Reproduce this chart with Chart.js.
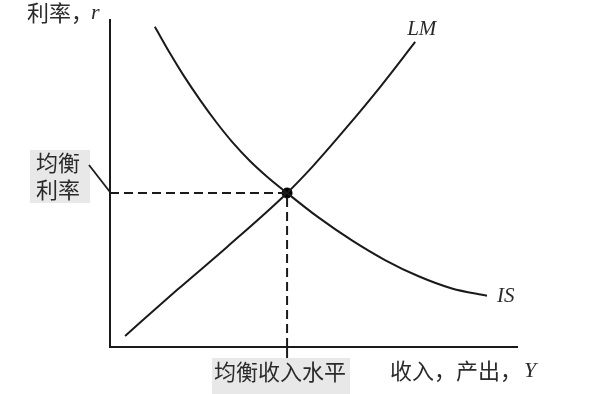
<!DOCTYPE html>
<html>
<head>
<meta charset="utf-8">
<script src="https://cdn.jsdelivr.net/npm/chart.js@4.4.1/dist/chart.umd.min.js"></script>
<style>
html,body{margin:0;padding:0;background:#fff;}
#wrap{width:600px;height:394px;position:relative;}
</style>
</head>
<body>
<div id="wrap"><canvas id="c" width="600" height="394"></canvas></div>
<script>
// IS curve (income, interest rate)
const isIncome = [11.0, 14.7, 17.9, 22.1, 26.2, 30.1, 34.3, 38.5, 43.4, 51.0, 59.3, 67.4, 75.5, 83.8, 92.4];
const isRate   = [97.9, 89.8, 83.3, 75.5, 68.5, 62.5, 56.9, 52.1, 47.1, 39.7, 32.6, 26.6, 21.7, 17.9, 15.7];
// LM curve
const lmIncome = [3.7, 16.4, 28.7, 43.4, 49.8, 58.1, 66.2, 74.8];
const lmRate   = [3.4, 17.4, 30.6, 47.1, 55.4, 67.3, 79.5, 93.3];
// Equilibrium
const eqIncome = 43.4;
const eqRate = 47.1;
// Labels
const xAxisLabel = '收入，产出，';
const xAxisVar = 'Y';
const yAxisLabel = '利率，';
const yAxisVar = 'r';
const eqIncomeLabel = '均衡收入水平';
const eqRateLabel = ['均衡', '利率'];
const isLabel = 'IS';
const lmLabel = 'LM';

const toPts = (xs, ys) => xs.map((x, i) => ({x: x, y: ys[i]}));

const annot = {
  id: 'annot',
  afterDatasetsDraw(chart) {
    const ctx = chart.ctx;
    const xs = chart.scales.x, ys = chart.scales.y;
    const x0 = xs.getPixelForValue(0), x1 = xs.getPixelForValue(100);
    const y0 = ys.getPixelForValue(0), y1 = ys.getPixelForValue(100);
    ctx.save();
    // axes
    ctx.strokeStyle = '#1a1a1a';
    ctx.lineWidth = 2;
    ctx.beginPath();
    ctx.moveTo(x0, y1 - 1);
    ctx.lineTo(x0, y0);
    ctx.lineTo(x1, y0);
    ctx.stroke();
    // tick at equilibrium income
    const ex = xs.getPixelForValue(eqIncome), ey = ys.getPixelForValue(eqRate);
    ctx.beginPath();
    ctx.moveTo(ex, y0);
    ctx.lineTo(ex, y0 + 11);
    ctx.stroke();

    const cjk = '"Noto Sans CJK SC", sans-serif';
    const txt = '#2a2a2a';
    // equilibrium income label with grey box
    ctx.font = '22px ' + cjk;
    ctx.textBaseline = 'middle';
    ctx.textAlign = 'center';
    ctx.fillStyle = '#e8e8e8';
    ctx.fillRect(ex - 75, y0 + 11, 138, 36);
    ctx.fillStyle = txt;
    ctx.fillText(eqIncomeLabel, ex - 7, y0 + 25);

    // x axis label
    ctx.textAlign = 'left';
    ctx.fillText(xAxisLabel, 390, y0 + 24);
    let xw = ctx.measureText(xAxisLabel).width;
    ctx.font = 'italic 22px "Liberation Serif", serif';
    ctx.fillText(xAxisVar, 390 + xw + 2, y0 + 24);

    // y axis label
    ctx.font = '22px ' + cjk;
    ctx.fillText(yAxisLabel, 27, 13);
    let yw = ctx.measureText(yAxisLabel).width;
    ctx.font = 'italic 22px "Liberation Serif", serif';
    ctx.fillText(yAxisVar, 27 + yw - 2, 13);

    // equilibrium rate label box
    ctx.fillStyle = '#e8e8e8';
    ctx.fillRect(30, ey - 43, 60, 53);
    ctx.fillStyle = txt;
    ctx.font = '22px ' + cjk;
    ctx.textAlign = 'center';
    ctx.fillText(eqRateLabel[0], 58, ey - 30);
    ctx.fillText(eqRateLabel[1], 58, ey - 3);
    // leader line
    ctx.strokeStyle = '#1a1a1a';
    ctx.lineWidth = 1.8;
    ctx.beginPath();
    ctx.moveTo(89, ey - 28);
    ctx.lineTo(x0, ey - 1);
    ctx.stroke();

    // curve labels
    ctx.fillStyle = txt;
    ctx.font = 'italic 21px "Liberation Serif", serif';
    ctx.textAlign = 'left';
    const lmx = xs.getPixelForValue(lmIncome[lmIncome.length - 1]);
    const lmy = ys.getPixelForValue(lmRate[lmRate.length - 1]);
    ctx.fillText(lmLabel, lmx - 8, lmy - 12);
    const isx = xs.getPixelForValue(isIncome[isIncome.length - 1]);
    const isy = ys.getPixelForValue(isRate[isRate.length - 1]);
    ctx.fillText(isLabel, isx + 10, isy + 1);
    ctx.restore();
  }
};

new Chart(document.getElementById('c'), {
  type: 'scatter',
  data: {
    datasets: [
      {data: [{x: 0, y: eqRate}, {x: eqIncome, y: eqRate}], showLine: true, borderColor: '#1a1a1a', borderWidth: 2, borderDash: [9, 5], pointRadius: 0},
      {data: [{x: eqIncome, y: 0}, {x: eqIncome, y: eqRate}], showLine: true, borderColor: '#1a1a1a', borderWidth: 2, borderDash: [9, 5], pointRadius: 0},
      {data: toPts(isIncome, isRate), showLine: true, borderColor: '#1a1a1a', borderWidth: 2, pointRadius: 0, cubicInterpolationMode: 'monotone'},
      {data: toPts(lmIncome, lmRate), showLine: true, borderColor: '#1a1a1a', borderWidth: 2, pointRadius: 0, cubicInterpolationMode: 'monotone'},
      {data: [{x: eqIncome, y: eqRate}], pointRadius: 5, pointBackgroundColor: '#000', pointBorderColor: '#000', showLine: false}
    ]
  },
  options: {
    responsive: false,
    animation: false,
    events: [],
    layout: {padding: {left: 110, right: 82, top: 20, bottom: 47}},
    plugins: {legend: {display: false}, tooltip: {enabled: false}},
    scales: {
      x: {type: 'linear', min: 0, max: 100, display: false},
      y: {type: 'linear', min: 0, max: 100, display: false}
    }
  },
  plugins: [annot]
});
</script>
</body>
</html>
